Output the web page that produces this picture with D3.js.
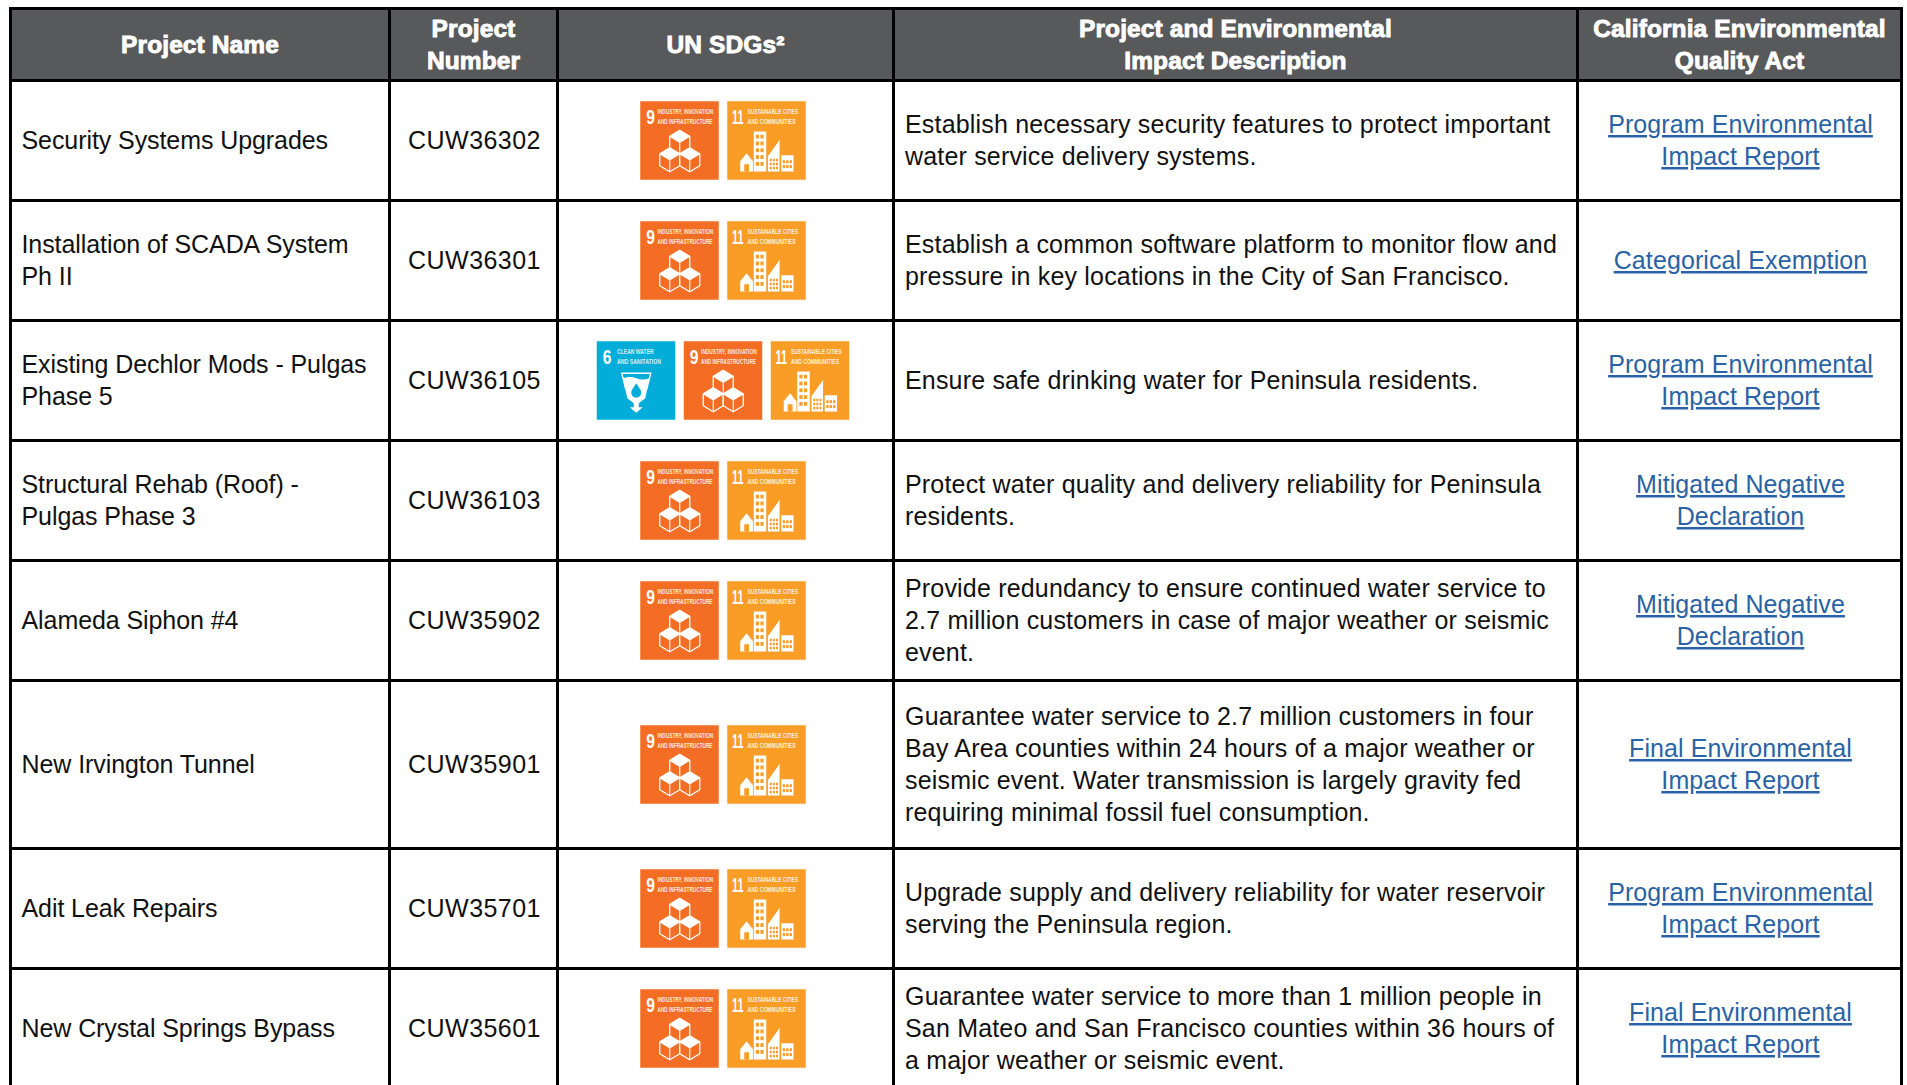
<!DOCTYPE html>
<html lang="en">
<meta charset="utf-8" />
<style>
  html, body { margin: 0; background: #fff; }
  svg { display: block; }
</style>
<svg width="1907" height="1085"></svg>
<script src="https://d3js.org/d3.v7.min.js"></script>

<script>
// table contents
var headers = [
  ["Project Name"],
  ["Project", "Number"],
  ["UN SDGs²"],
  ["Project and Environmental", "Impact Description"],
  ["California Environmental", "Quality Act"]
];
var projectNames = [
  ["Security Systems Upgrades"],
  ["Installation of SCADA System", "Ph II"],
  ["Existing Dechlor Mods - Pulgas", "Phase 5"],
  ["Structural Rehab (Roof) -", "Pulgas Phase 3"],
  ["Alameda Siphon #4"],
  ["New Irvington Tunnel"],
  ["Adit Leak Repairs"],
  ["New Crystal Springs Bypass"]
];
var projectNumbers = ["CUW36302", "CUW36301", "CUW36105", "CUW36103", "CUW35902", "CUW35901", "CUW35701", "CUW35601"];
var sdgGoals = [[9, 11], [9, 11], [6, 9, 11], [9, 11], [9, 11], [9, 11], [9, 11], [9, 11]];
var descriptions = [
  ["Establish necessary security features to protect important", "water service delivery systems."],
  ["Establish a common software platform to monitor flow and", "pressure in key locations in the City of San Francisco."],
  ["Ensure safe drinking water for Peninsula residents."],
  ["Protect water quality and delivery reliability for Peninsula", "residents."],
  ["Provide redundancy to ensure continued water service to", "2.7 million customers in case of major weather or seismic", "event."],
  ["Guarantee water service to 2.7 million customers in four", "Bay Area counties within 24 hours of a major weather or", "seismic event. Water transmission is largely gravity fed", "requiring minimal fossil fuel consumption."],
  ["Upgrade supply and delivery reliability for water reservoir", "serving the Peninsula region."],
  ["Guarantee water service to more than 1 million people in", "San Mateo and San Francisco counties within 36 hours of", "a major weather or seismic event."]
];
var ceqaLinks = [
  ["Program Environmental", "Impact Report"],
  ["Categorical Exemption"],
  ["Program Environmental", "Impact Report"],
  ["Mitigated Negative", "Declaration"],
  ["Mitigated Negative", "Declaration"],
  ["Final Environmental", "Impact Report"],
  ["Program Environmental", "Impact Report"],
  ["Final Environmental", "Impact Report"]
];
var goalColors = { 6: "#02aed9", 9: "#f36e24", 11: "#f99d26" };
var goalCaptions = {
  6: ["CLEAN WATER", "AND SANITATION"],
  9: ["INDUSTRY, INNOVATION", "AND INFRASTRUCTURE"],
  11: ["SUSTAINABLE CITIES", "AND COMMUNITIES"]
};

// layout
var colEdges = [10.5, 389.5, 557.5, 893.5, 1577.5, 1901.5];
var rowEdges = [8.5, 80.5, 200.5, 320.5, 440.5, 560.5, 680.5, 848.5, 968.5, 1088.5];
var lineHeight = 32;
var bodyFont = "'Liberation Sans', sans-serif";
var iconSize = 78.5, iconGap = 8.5;

var svg = d3.select("svg");

// header band
svg.append("rect")
  .attr("x", colEdges[0]).attr("y", rowEdges[0])
  .attr("width", colEdges[5] - colEdges[0]).attr("height", rowEdges[1] - rowEdges[0])
  .attr("fill", "#58595b");

// grid
svg.selectAll(".hline").data(rowEdges.slice(0, -1)).enter().append("line")
  .attr("x1", colEdges[0] - 1.5).attr("x2", colEdges[5] + 1.5)
  .attr("y1", function(d) { return d; }).attr("y2", function(d) { return d; })
  .attr("stroke", "#000").attr("stroke-width", 3);
svg.selectAll(".vline").data(colEdges).enter().append("line")
  .attr("x1", function(d) { return d; }).attr("x2", function(d) { return d; })
  .attr("y1", rowEdges[0] - 1.5).attr("y2", 1085)
  .attr("stroke", "#000").attr("stroke-width", 3);

function colMid(i) { return (colEdges[i] + colEdges[i + 1]) / 2; }
function rowMid(i) { return (rowEdges[i + 1] + rowEdges[i + 2]) / 2; }

// multi-line text block, vertically centred on cy
function textBlock(parent, lines, x, cy, anchor) {
  var t = parent.append("text").attr("text-anchor", anchor).attr("font-family", bodyFont);
  t.selectAll("tspan").data(lines).enter().append("tspan")
    .attr("x", x)
    .attr("y", function(d, i) { return cy + (i - (lines.length - 1) / 2) * lineHeight + 8.5; })
    .text(function(d) { return d; });
  return t;
}

// squeeze a tile label to a set width, the tile lettering is very condensed
function fitText(g, str, x, y, w, size, weight, opacity) {
  var t = g.append("text")
    .attr("font-family", bodyFont).attr("font-size", size).attr("font-weight", weight)
    .attr("fill", "#fff").attr("fill-opacity", opacity)
    .text(str);
  var k = w / t.node().getComputedTextLength();
  t.attr("transform", "translate(" + x + "," + y + ") scale(" + k + ",1)");
}

// header text
headers.forEach(function(lines, i) {
  textBlock(svg, lines, colMid(i), (rowEdges[0] + rowEdges[1]) / 2, "middle")
    .attr("fill", "#fff").attr("font-size", 24.5).attr("font-weight", "bold")
    .attr("letter-spacing", 0.1)
    .attr("stroke", "#fff").attr("stroke-width", 0.9);
});

// body rows
var bodySize = 25;
projectNames.forEach(function(lines, i) {
  var cy = rowMid(i);
  textBlock(svg, lines, 21.5, cy, "start").attr("fill", "#111").attr("font-size", bodySize).attr("letter-spacing", -0.08);
  textBlock(svg, [projectNumbers[i]], colMid(1) + 1, cy, "middle").attr("fill", "#111").attr("font-size", bodySize).attr("letter-spacing", 0.45);
  textBlock(svg, descriptions[i], 905, cy, "start").attr("fill", "#111").attr("font-size", bodySize).attr("letter-spacing", 0.18);
  textBlock(svg, ceqaLinks[i], colMid(4) + 1, cy, "middle")
    .attr("fill", "#2a63a5").attr("font-size", bodySize).attr("letter-spacing", 0.1).attr("text-decoration", "underline");

  var goals = sdgGoals[i];
  var x = d3.scaleBand().domain(goals)
    .range([0, goals.length * iconSize + (goals.length - 1) * iconGap])
    .paddingInner(iconGap / (iconSize + iconGap));
  var left = colMid(2) - x.range()[1] / 2 - 2.5;
  goals.forEach(function(g) {
    drawIcon(svg.append("g").attr("transform", "translate(" + (left + x(g)) + "," + (cy - iconSize / 2) + ")"), g);
  });
});

// SDG tiles, drawn in a 79 x 79 box
function drawIcon(g, goal) {
  g.append("rect").attr("width", iconSize).attr("height", iconSize).attr("fill", goalColors[goal]);
  var numX = goal === 11 ? 4.7 : 6, numW = goal === 11 ? 11.6 : 8.7;
  fitText(g, String(goal), numX, 22.3, numW, 21, "bold", 1);
  var capX = { 6: 20.3, 9: 17.3, 11: 20.3 }[goal], capW = { 6: [36.7, 44], 9: [55.7, 55], 11: [50.7, 48] }[goal];
  goalCaptions[goal].forEach(function(c, i) {
    fitText(g, c, capX, 12.3 + i * 10, capW[i], 7.4, "bold", 0.85);
  });
  if (goal === 6) drawGlass(g);
  if (goal === 9) drawCubes(g);
  if (goal === 11) drawCity(g);
}

function drawGlass(g) {
  var fg = goalColors[6];
  g.append("path").attr("fill", "none").attr("stroke", "#fff").attr("stroke-width", 1.4)
    .attr("d", "M25 32H54L50 48H29Z");
  g.append("path").attr("fill", "#fff")
    .attr("d", "M26.5 37Q33 34.5 39.5 37T52.5 37L48.5 57L42 62V66H46L39.5 71.5L33 66H37V62L30.5 57Z");
  g.append("path").attr("fill", fg)
    .attr("d", "M39.5 42C42 46 44.5 48.5 44.5 51.5A5 5 0 0 1 34.5 51.5C34.5 48.5 37 46 39.5 42Z");
}

function drawCubes(g) {
  var w = 10, r = 12;
  [[39.5, 41], [29.5, 58.5], [49.5, 58.5]].forEach(function(c) {
    var x = c[0], y = c[1];
    var hex = "M" + x + " " + (y - r) + "L" + (x + w) + " " + (y - r / 2) + "V" + (y + r / 2) +
      "L" + x + " " + (y + r) + "L" + (x - w) + " " + (y + r / 2) + "V" + (y - r / 2) + "Z";
    g.append("path").attr("d", hex).attr("fill", goalColors[9]).attr("stroke", "#fff").attr("stroke-width", 1.3);
    g.append("path").attr("fill", "#fff")
      .attr("d", "M" + x + " " + (y - r) + "L" + (x + w) + " " + (y - r / 2) + "L" + x + " " + y + "L" + (x - w) + " " + (y - r / 2) + "Z");
    g.append("path").attr("fill", "none").attr("stroke", "#fff").attr("stroke-width", 1.1)
      .attr("d", "M" + (x - w) + " " + (y - r / 2) + "L" + x + " " + y + "L" + (x + w) + " " + (y - r / 2) + "M" + x + " " + y + "V" + (y + r));
  });
}

function drawCity(g) {
  var bg = goalColors[11];
  g.append("path").attr("fill", "#fff").attr("d", "M13 60L19.3 52L25.7 60V70.3H13Z");
  g.append("rect").attr("x", 17).attr("y", 63).attr("width", 4.8).attr("height", 7.3).attr("fill", bg);
  g.append("rect").attr("x", 26.5).attr("y", 30.3).attr("width", 12.5).attr("height", 40).attr("fill", "#fff");
  d3.range(5).forEach(function(r) {
    d3.range(2).forEach(function(c) {
      g.append("rect").attr("x", 28.6 + c * 4.6).attr("y", 33.5 + r * 6.8).attr("width", 3.2).attr("height", 3.8).attr("fill", bg);
    });
  });
  g.append("path").attr("fill", "#fff").attr("d", "M40.7 70.3V55L52.3 38.7V70.3Z");
  d3.range(3).forEach(function(r) {
    d3.range(3).forEach(function(c) {
      g.append("rect").attr("x", 42.5 + c * 3.1).attr("y", 57.5 + r * 4).attr("width", 2).attr("height", 2.6).attr("fill", bg);
    });
  });
  g.append("rect").attr("x", 54).attr("y", 54).attr("width", 12.3).attr("height", 16.3).attr("fill", "#fff");
  d3.range(2).forEach(function(r) {
    d3.range(3).forEach(function(c) {
      g.append("rect").attr("x", 55.5 + c * 3.4).attr("y", 59 + r * 4.8).attr("width", 2.4).attr("height", 3).attr("fill", bg);
    });
  });
}
</script>
</html>
